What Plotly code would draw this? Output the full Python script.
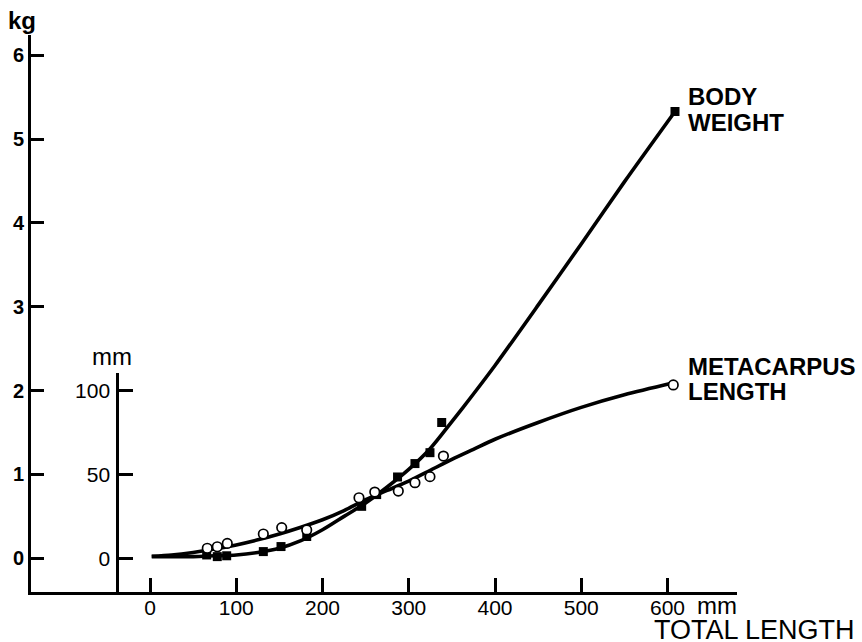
import plotly.graph_objects as go

# ---------------- data ----------------
# Body weight measurements (filled squares), kg vs total length mm
bw_length = [65.7, 78.0, 88.9, 131.4, 151.9, 181.7, 245.4, 262.8, 287.0, 307.2, 324.6, 338.2, 608.7]
bw_kg = [0.04, 0.02, 0.03, 0.08, 0.14, 0.26, 0.62, 0.76, 0.97, 1.13, 1.26, 1.62, 5.33]

# Metacarpus length measurements (open circles), mm vs total length mm
mc_length = [66.4, 78.0, 89.6, 131.4, 152.7, 181.7, 242.3, 260.6, 287.9, 307.2, 324.6, 340.2, 606.7]
mc_mm = [6.0, 6.9, 8.9, 14.5, 18.3, 16.9, 36.1, 39.5, 40.1, 45.1, 48.7, 61.0, 103.4]

# Fitted curves as drawn
bw_curve_x = [2, 25, 50, 75, 100, 125, 150, 175, 200, 225, 250, 275, 300, 325, 350, 375, 400, 450, 500, 550, 608.7]
bw_curve_kg = [0.02, 0.02, 0.02, 0.03, 0.04, 0.07, 0.12, 0.21, 0.34, 0.50, 0.66, 0.85, 1.06, 1.31, 1.63, 1.96, 2.30, 3.02, 3.75, 4.49, 5.33]

mc_curve_x = [2, 25, 50, 75, 100, 125, 150, 175, 200, 225, 250, 275, 300, 325, 350, 375, 400, 450, 500, 550, 606]
mc_curve_mm = [1.2, 2.0, 3.5, 5.5, 8.0, 11.0, 14.5, 18.5, 23.0, 28.5, 35.0, 40.5, 46.0, 52.5, 59.0, 65.0, 71.0, 81.0, 90.0, 97.5, 104.5]

x_ticks = [0, 100, 200, 300, 400, 500, 600]
x_tick_text = ["0", "100", "200", "300", "400", "500", "600"]
kg_ticks = [0, 1, 2, 3, 4, 5, 6]
mm_ticks = [0, 50, 100]

# ---------------- layout geometry ----------------
W, H = 862, 642
L, R, T, B = 31, 737, 35, 592  # plot area in pixels
FONT = "Liberation Sans, Arial, Helvetica, sans-serif"


def px(xp, yp):
    return (xp - L) / (R - L), (B - yp) / (B - T)


fig = go.Figure()

fig.add_trace(go.Scatter(x=bw_curve_x, y=bw_curve_kg, mode="lines",
                         line=dict(color="black", width=3.6, shape="spline", smoothing=0.8),
                         xaxis="x", yaxis="y", showlegend=False, hoverinfo="skip"))
fig.add_trace(go.Scatter(x=mc_curve_x, y=mc_curve_mm, mode="lines",
                         line=dict(color="black", width=3.6, shape="spline", smoothing=0.8),
                         xaxis="x", yaxis="y2", showlegend=False, hoverinfo="skip"))
fig.add_trace(go.Scatter(x=bw_length, y=bw_kg, mode="markers",
                         marker=dict(symbol="square", size=9, color="black"),
                         xaxis="x", yaxis="y", showlegend=False, cliponaxis=False))
fig.add_trace(go.Scatter(x=mc_length, y=mc_mm, mode="markers",
                         marker=dict(symbol="circle", size=9.5, color="white",
                                     line=dict(color="black", width=1.7)),
                         xaxis="x", yaxis="y2", showlegend=False, cliponaxis=False))

fig.update_layout(
    width=W, height=H,
    margin=dict(l=L, r=W - R, t=T, b=H - B, pad=0, autoexpand=False),
    paper_bgcolor="white", plot_bgcolor="rgba(0,0,0,0)",
    font=dict(family=FONT, color="black"),
    xaxis=dict(
        range=[(L - 150) / 0.8625, (R - 150) / 0.8625],
        domain=[0, 1],
        tickvals=x_ticks, ticktext=x_tick_text,
        ticks="inside", ticklen=14, tickwidth=3, tickcolor="black",
        showline=True, linewidth=3, linecolor="black",
        showgrid=False, zeroline=False, automargin=False,
        tickfont=dict(size=21, family=FONT),
        ticklabelstandoff=-5,
        anchor="y",
    ),
    yaxis=dict(
        range=[(558.3 - B) / 83.83, (558.3 - T) / 83.83],
        domain=[0, 1],
        tickvals=kg_ticks,
        ticks="inside", ticklen=13, tickwidth=3, tickcolor="black",
        showline=True, linewidth=3, linecolor="black",
        showgrid=False, zeroline=False, automargin=False,
        tickfont=dict(size=20, family=FONT, weight="bold"),
        anchor="x",
    ),
    yaxis2=dict(
        range=[(558.3 - B) / 1.6766, (558.3 - 373) / 1.6766],
        domain=[0, (B - 373) / (B - T)],
        anchor="free", position=(117.3 - L) / (R - L),
        tickvals=mm_ticks,
        ticks="inside", ticklen=14, tickwidth=3, tickcolor="black",
        showline=True, linewidth=3, linecolor="black",
        showgrid=False, zeroline=False, automargin=False,
        tickfont=dict(size=21, family=FONT),
        ticklabelstandoff=2,
    ),
)

annots = [
    ("kg", 22, 20, 24, "bold", "center"),
    ("mm", 111.5, 356, 24, "normal", "center"),
    ("mm", 695, 605, 24, "normal", "left"),
    ("TOTAL LENGTH", 652, 630, 27, "normal", "left"),
    ("BODY", 686, 96, 24, "bold", "left"),
    ("WEIGHT", 686, 122.5, 24, "bold", "left"),
    ("METACARPUS", 686, 366.7, 24, "bold", "left"),
    ("LENGTH", 686, 391, 24, "bold", "left"),
]
for text, xp, yp, size, weight, anchor in annots:
    xx, yy = px(xp, yp)
    fig.add_annotation(text=text, x=xx, y=yy, xref="paper", yref="paper",
                       xanchor=anchor, yanchor="middle", showarrow=False,
                       font=dict(size=size, family=FONT, weight=weight, color="black"))

fig.write_html(
    "out.html",
    config={"displayModeBar": False},
    post_script="document.body.style.margin='0';document.body.style.overflow='hidden';",
)
